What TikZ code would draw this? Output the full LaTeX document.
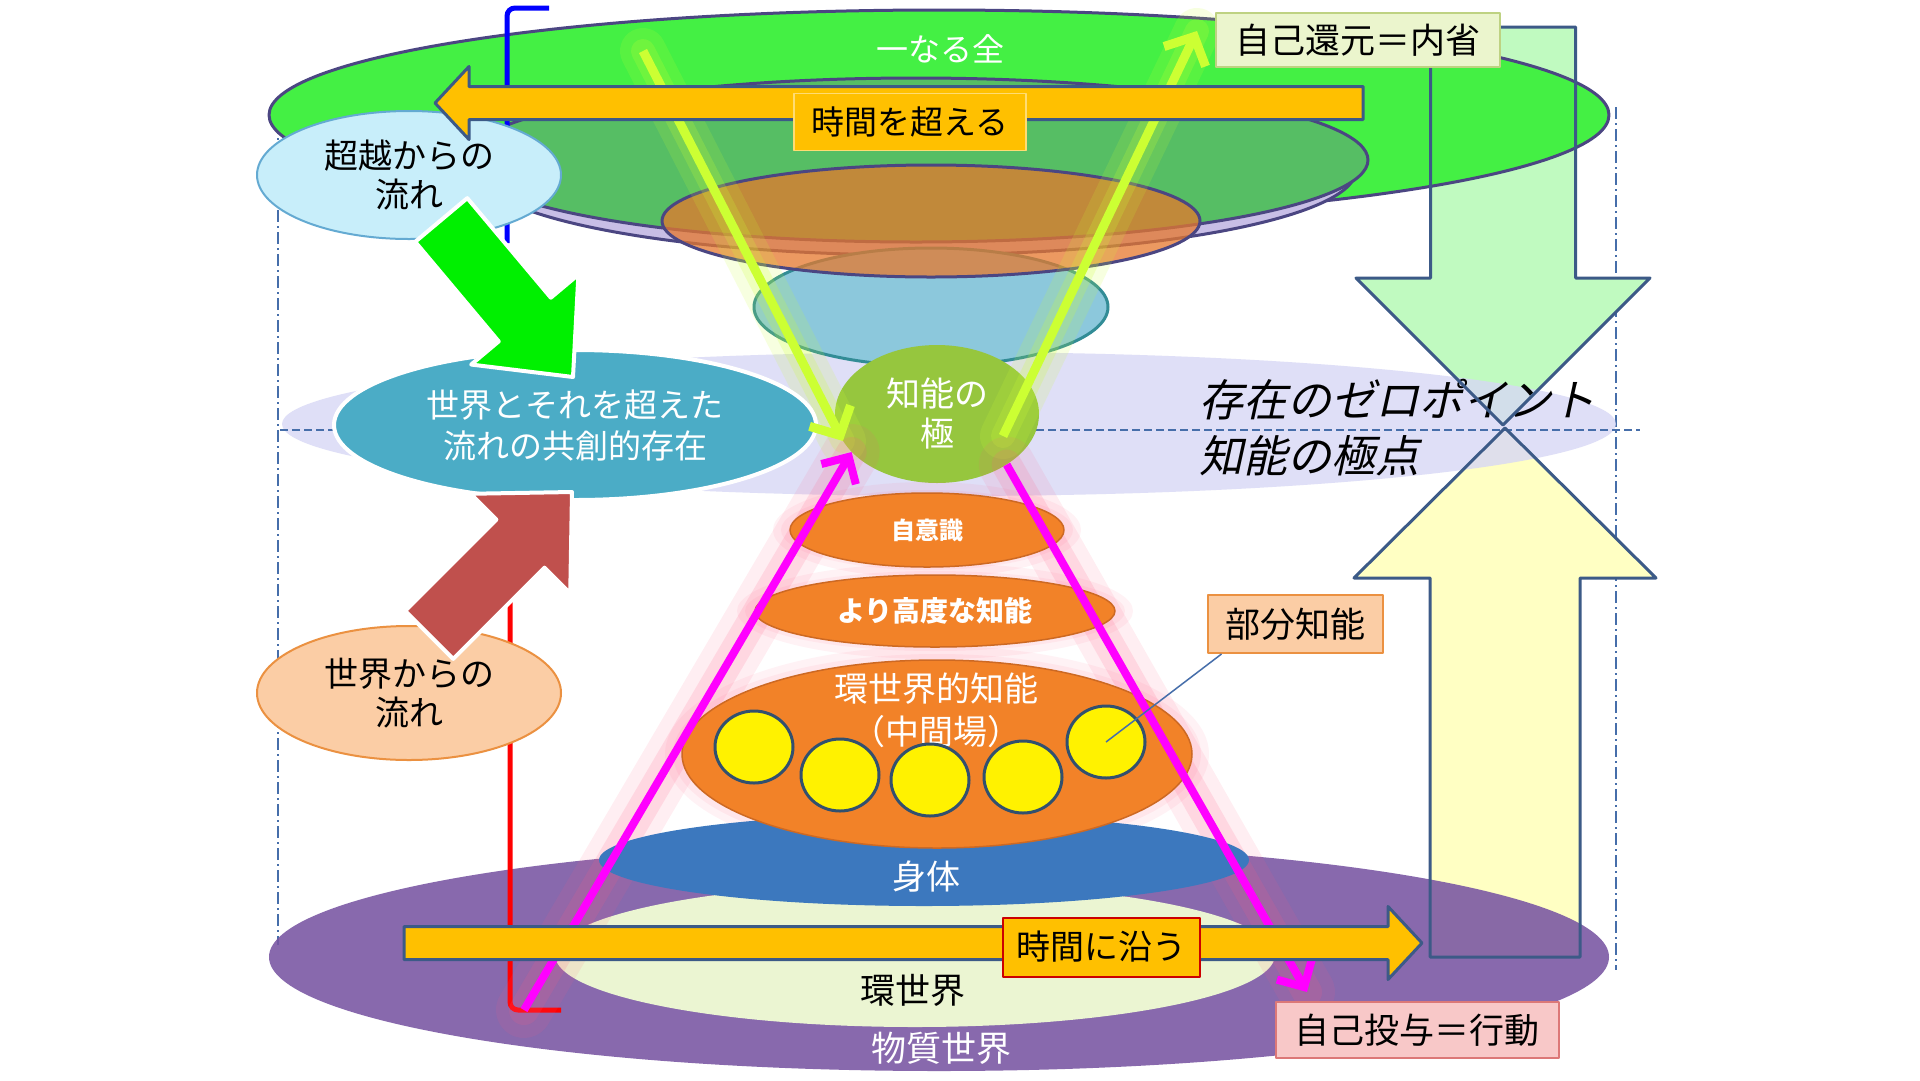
\documentclass[tikz,border=0pt]{standalone}
\usepackage{fontspec}
\setmainfont{Noto Sans CJK JP}
\newfontfamily\slantjp{Noto Sans CJK JP}[FakeSlant=0.22]
\usetikzlibrary{arrows.meta,shapes.geometric}

\definecolor{gbright}{RGB}{68,240,68}
\definecolor{gmid}{RGB}{86,190,100}
\definecolor{lilac}{RGB}{200,190,230}
\definecolor{rimblue}{RGB}{75,70,130}
\definecolor{orgtop}{RGB}{230,120,45}
\definecolor{tealfill}{RGB}{140,200,220}
\definecolor{tealrim}{RGB}{50,140,150}
\definecolor{bandc}{RGB}{215,215,245}
\definecolor{guide}{RGB}{70,110,170}
\definecolor{kyosoc}{RGB}{75,172,198}
\definecolor{kyokuc}{RGB}{150,198,62}
\definecolor{skyfill}{RGB}{200,238,250}
\definecolor{skyrim}{RGB}{100,170,210}
\definecolor{peach}{RGB}{251,205,165}
\definecolor{peachrim}{RGB}{235,145,65}
\definecolor{agreen}{RGB}{0,240,0}
\definecolor{ared}{RGB}{192,80,77}
\definecolor{lime}{RGB}{204,255,51}
\definecolor{mag}{RGB}{255,0,255}
\definecolor{glowpink}{RGB}{255,90,130}
\definecolor{disc}{RGB}{242,130,40}
\definecolor{discrim}{RGB}{205,105,35}
\definecolor{slate}{RGB}{50,80,110}
\definecolor{bodyc}{RGB}{60,120,190}
\definecolor{umwelt}{RGB}{235,245,210}
\definecolor{purp}{RGB}{120,85,162}
\definecolor{amber}{RGB}{255,192,0}
\definecolor{arrim}{RGB}{60,90,135}
\definecolor{mint}{RGB}{192,250,192}
\definecolor{cream}{RGB}{255,255,195}
\definecolor{pinkbox}{RGB}{248,200,200}
\definecolor{pinkrim}{RGB}{220,120,120}
\definecolor{palegreen}{RGB}{235,245,205}
\definecolor{palerim}{RGB}{190,210,130}

\newcommand{\setfs}[2]{\fontsize{#1}{#2}\selectfont}
% block arrow: [style]{tip}{angle}{length}{body width}{head width}{head length}
\newcommand{\blockarrow}[7][]{%
  \path[#1, shift={(#2)}, rotate=#3]
    (0,0) -- (-#7,#6/2) -- (-#7,#5/2) -- (-#4,#5/2)
    -- (-#4,-#5/2) -- (-#7,-#5/2) -- (-#7,-#6/2) -- cycle;}

\begin{document}
\begin{tikzpicture}[x=1pt, y=-1pt, line join=round,
  ell/.style={ellipse, inner sep=0pt, align=center},
  rim/.style={draw=rimblue, line width=3},
  tagbox/.style={rectangle, inner sep=0pt, align=center, text=black, font={\setfs{34}{40}}},
  guideline/.style={draw=guide, line width=1.5},
  limeline/.style={draw=lime, line width=9, -{Straight Barb[length=22pt,width=46pt]}},
  pinkline/.style={draw=mag, line width=8, -{Straight Barb[length=20pt,width=40pt]}},
  limeglow/.style={draw=lime, line cap=round, opacity=#1},
  pinkglow/.style={draw=glowpink, line cap=round, opacity=#1},
  discnode/.style={ell, fill=disc, draw=discrim, line width=1.5, text=white, font={\bfseries}},
]
\fill[white] (0,0) rectangle (1920,1080);
\useasboundingbox (0,0) rectangle (1920,1080);

% guides
\draw[guideline, dash pattern=on 12pt off 4pt on 2pt off 4pt] (278,100) -- (278,945);
\draw[guideline, dash pattern=on 12pt off 4pt on 2pt off 4pt] (1616,107) -- (1616,970);

% big arrows (fill only, outline later)
\blockarrow[fill=mint]{1503,425}{-90}{398}{145}{294}{147}
\blockarrow[fill=cream]{1505,428}{90}{529}{150}{302}{150}

% zero point band
\node[ell, fill=bandc, fill opacity=0.8, minimum width=1334pt, minimum height=144pt] (zero) at (949,424) {};
\draw[guideline, dash pattern=on 8pt off 4pt] (280,430) -- (1640,430);

% START upper tiers --------------------------------------
\node[ell, rim, fill=gbright, minimum width=1340pt, minimum height=210pt] (whole) at (939,115) {};
\node[ell, rim, fill=lilac, minimum width=880pt, minimum height=170pt] (veil) at (916,170) {};
\node[ell, rim, fill=gmid, minimum width=904pt, minimum height=164pt] (tier2) at (916,160) {};
\node[ell, draw=tealrim, line width=3, fill=tealfill, minimum width=354pt, minimum height=118pt] (tier4) at (931,307) {};
\node[ell, rim, fill=orgtop, fill opacity=0.75, minimum width=538pt, minimum height=112pt] (tier3) at (931,221) {};

% pole of intelligence
\node[ell, fill=kyokuc, minimum width=204pt, minimum height=138pt, text=white, font={\setfs{34}{40}}] (kyoku) at (937,414) {知能の\\極};

\coordinate (limeA) at (643,51);
\coordinate (limeB) at (1003,436);
\coordinate (limeBend) at (1197,31);
\coordinate (magA) at (524,1010);
\coordinate (magBend) at (1307,992);

\draw[limeglow=0.15, line width=46] (limeA) -- (kyoku.196);
\draw[limeglow=0.2, line width=24] (limeA) -- (kyoku.196);
\draw[limeglow=0.15, line width=46] (limeB) -- (limeBend);
\draw[limeglow=0.2, line width=24] (limeB) -- (limeBend);

% START lower tiers --------------------------------------
\node[ell, fill=purp, fill opacity=0.88, minimum width=1340pt, minimum height=228pt] (matter) at (939,957) {};
\node[ell, fill=umwelt, minimum width=720pt, minimum height=144pt] (umw) at (915,955) {};
\node[text=black, font={\setfs{35}{40}}] (umwtext) at (913,990) {環世界};
\node[text=white, font={\setfs{35}{40}}] (mattertext) at (941,1048) {物質世界};

\draw[red, line width=5, rounded corners=8] (510,560) -- (510,1010) -- (561,1010);

\draw[pinkglow=0.1, line width=56] (magA) -- (kyoku.204);
\draw[pinkglow=0.15, line width=30] (magA) -- (kyoku.204);
\draw[pinkglow=0.1, line width=56] (kyoku.324) -- (magBend);
\draw[pinkglow=0.15, line width=30] (kyoku.324) -- (magBend);
\foreach \g in {0,8}{
  \fill[glowpink, opacity=0.08] (927,530) ellipse ({154-\g} and {48-\g});
  \fill[glowpink, opacity=0.08] (935,611) ellipse ({198-\g} and {48-\g});
  \fill[glowpink, opacity=0.08] (937,754) ellipse ({272-\g} and {108-\g});
}

\node[ell, fill=bodyc, minimum width=650pt, minimum height=92pt] (body) at (924,860) {};
\node[text=white, font={\setfs{34}{40}}] (bodytext) at (926,877) {身体};
\node[discnode, font={\setfs{34}{43}}, minimum width=510pt, minimum height=188pt] (kanchi) at (937,754) {};
\node[text=white, align=center, font={\setfs{34}{43}}] (kanchitext) at (936,710) {環世界的知能\\（中間場）};
\foreach \i/\x/\y in {1/754/747, 2/840/775, 3/930/780, 4/1023/777, 5/1106/742}
  \node[ell, draw=slate, line width=3, fill=yellow, minimum width=78pt, minimum height=72pt] (c\i) at (\x,\y) {};
\node[discnode, font={\setfs{28}{32}\bfseries}, minimum width=360pt, minimum height=72pt] (kodo) at (935,611) {より高度な知能};
\node[discnode, font={\setfs{24}{28}\bfseries}, minimum width=274pt, minimum height=74pt] (jiishiki) at (927,530) {自意識};

% START flows --------------------------------------
\draw[blue, line width=5, rounded corners=8] (549,8) -- (507,8) -- (507,243);
\node[ell, draw=skyrim, line width=2, fill=skyfill, minimum width=304pt, minimum height=128pt, font={\setfs{34}{39}}] (trans) at (409,175) {超越からの\\流れ};
\node[ell, draw=white, line width=4, fill=kyosoc, minimum width=482pt, minimum height=150pt, text=white, font={\setfs{33}{41}}] (kyoso) at (575,425) {世界とそれを超えた\\流れの共創的存在};
\node[ell, draw=peachrim, line width=2, fill=peach, minimum width=304pt, minimum height=134pt, font={\setfs{34}{39}}] (world) at (409,693) {世界からの\\流れ};

\blockarrow[fill=agreen, draw=white, line width=4]{573,377}{-50}{205}{68}{140}{75}
\blockarrow[fill=ared, draw=white, line width=4]{572,492}{45}{202}{68}{141}{73}

\draw[limeline] (limeA) -- (kyoku.196);
\draw[limeline] (limeB) -- (limeBend);
\draw[pinkline] (magA) -- (kyoku.204);
\draw[pinkline] (kyoku.324) -- (magBend);

% START time arrows --------------------------------------
\blockarrow[fill=amber, draw=arrim, line width=3]{435,103}{180}{928}{33}{73}{34}
\blockarrow[fill=amber, draw=arrim, line width=3]{1422,943}{0}{1018}{33}{73}{34}
\node[tagbox, fill=amber, draw=amber!55!white, line width=1.5, minimum width=232pt, minimum height=57pt, font={\setfs{33}{40}}] (koe) at (910,122) {時間を超える};
\node[tagbox, fill=amber, draw=red!80!black, line width=2, minimum width=197pt, minimum height=59pt] (sou) at (1101,947) {時間に沿う};

\node[text=white, font={\setfs{32}{38}}] (ichi) at (940,49) {一なる全};
\node[anchor=west, align=left, font={\slantjp\setfs{44}{56}}] (zerotext) at (1196,428) {存在のゼロポイント\\知能の極点};

% big arrows outline
\blockarrow[draw=arrim, line width=3]{1503,425}{-90}{398}{145}{294}{147}
\blockarrow[draw=arrim, line width=3]{1505,428}{90}{529}{150}{302}{150}

\node[tagbox, fill=palegreen, draw=palerim, line width=2, minimum width=284pt, minimum height=54pt, font={\setfs{35}{40}}] (kangen) at (1358,40) {自己還元＝内省};
\node[tagbox, fill=pinkbox, draw=pinkrim, line width=2, minimum width=283pt, minimum height=56pt, font={\setfs{35}{40}}] (toyo) at (1417,1030) {自己投与＝行動};
\node[tagbox, fill=peach, draw=peachrim, line width=2, minimum width=175pt, minimum height=58pt, font={\setfs{35}{40}}] (bubun) at (1295,624) {部分知能};
\draw[guideline] (bubun.south west) ++(15,0) -- (c5.center);

\end{tikzpicture}
\end{document}
